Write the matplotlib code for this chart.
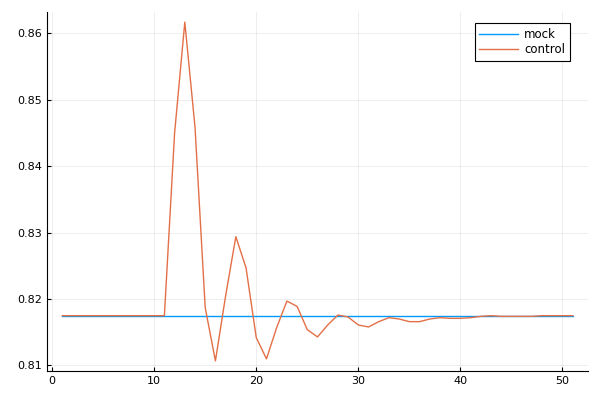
import matplotlib
matplotlib.use("Agg")
import matplotlib.pyplot as plt
import numpy as np

# --- series ---
x = np.arange(1, 52)
mock = [0.8175] * 51
control = [0.8175] * 11 + [
    0.8450, 0.8617, 0.8459, 0.8187, 0.8107, 0.8205, 0.8294, 0.8247, 0.8142,
    0.8110, 0.8157, 0.8197, 0.8189, 0.8154, 0.8143, 0.8161, 0.8176, 0.8173,
    0.8161, 0.8158, 0.8166, 0.8172, 0.8170, 0.8166, 0.8166, 0.8170, 0.8172,
    0.8171, 0.8171, 0.8172, 0.8174, 0.8175, 0.8174, 0.8174, 0.8174, 0.8174,
    0.8175, 0.8175, 0.8175, 0.8175,
]

xticks = [0, 10, 20, 30, 40, 50]
yticks = [0.81, 0.82, 0.83, 0.84, 0.85, 0.86]

fig = plt.figure(figsize=(6, 4), dpi=100)
ax = fig.add_axes([47 / 600, 29 / 400, 541 / 600, 359 / 400])

ax.plot(x, mock, color="#009AFA", lw=1, label="mock")
ax.plot(x, control, color="#E36F47", lw=1, label="control")

# --- Plots.jl-like axes ---
pad_x = 0.03 * (x.max() - x.min())
ax.set_xlim(x.min() - pad_x, x.max() + pad_x)
lo, hi = min(control), max(control)
pad_y = 0.03 * (hi - lo)
ax.set_ylim(lo - pad_y, hi + pad_y)
ax.set_xticks(xticks)
ax.set_yticks(yticks)
ax.set_yticklabels([f"{v:.2f}" for v in yticks])
ax.tick_params(direction="in", length=3, labelsize=8, width=0.8)
for s in ["top", "right"]:
    ax.spines[s].set_visible(False)
ax.grid(True, color="black", alpha=0.08, lw=0.6)

leg = ax.legend(loc="upper right", fontsize=8.5, fancybox=False, edgecolor="black",
                handlelength=3.3, handletextpad=0.5, borderaxespad=0, framealpha=1,
                labelspacing=0.2, bbox_to_anchor=(570 / 600, 1 - 23 / 400),
                bbox_transform=fig.transFigure)
leg.get_frame().set_linewidth(0.8)

fig.savefig("out.png", dpi=100)
